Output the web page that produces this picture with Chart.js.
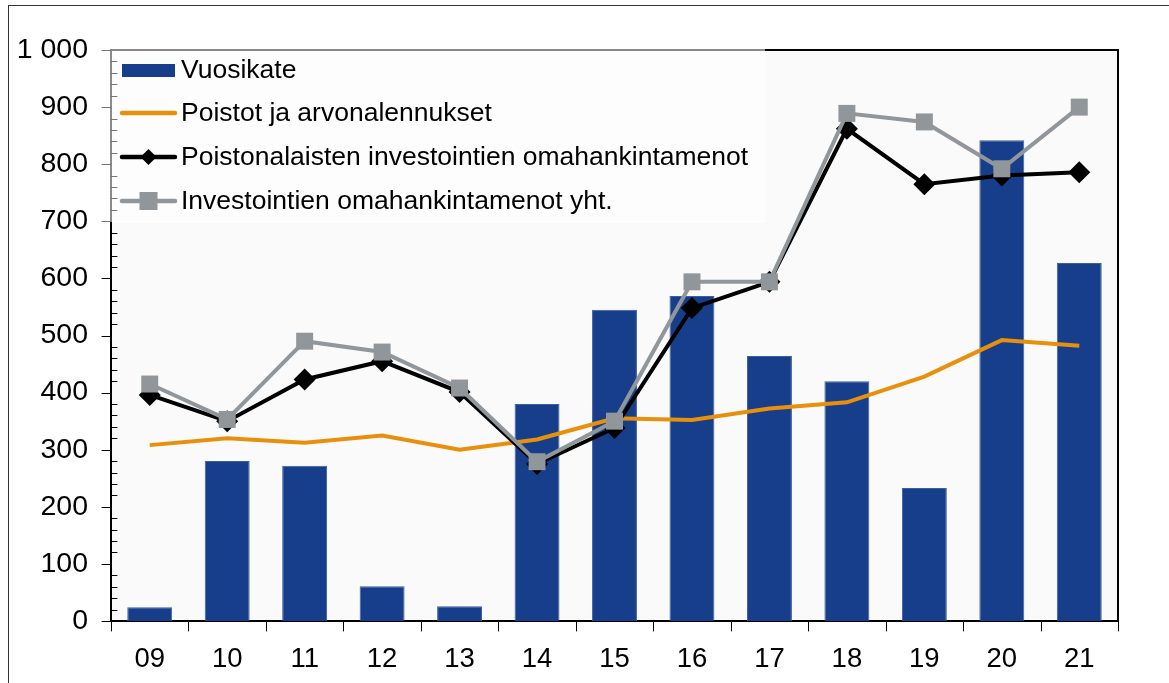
<!DOCTYPE html>
<html>
<head>
<meta charset="utf-8">
<script src="https://cdn.jsdelivr.net/npm/chart.js@4.4.1/dist/chart.umd.min.js"></script>
<style>
  html, body { margin: 0; padding: 0; background: #fff; }
  #wrap { width: 1169px; height: 683px; }
</style>
</head>
<body>
<div id="wrap"><canvas id="kaavio" width="1169" height="683"></canvas></div>
<script>
// vuodet (2009–2021)
const vuodet = ['09', '10', '11', '12', '13', '14', '15', '16', '17', '18', '19', '20', '21'];

// arvot luettu kuvasta
const vuosikate = [24, 280, 272, 61, 26, 380, 545, 569, 464, 420, 233, 842, 627];
const poistot = [308, 320, 312, 325, 300, 318, 355, 352, 372, 383, 428, 492, 482];
const poistonalaiset = [396, 350, 423, 455, 401, 275, 338, 548, 594, 862, 765, 780, 786];
const investoinnitYht = [415, 353, 490, 471, 408, 279, 350, 594, 594, 889, 874, 792, 900];

const nimet = [
    'Vuosikate',
    'Poistot ja arvonalennukset',
    'Poistonalaisten investointien omahankintamenot',
    'Investointien omahankintamenot yht.'
];

const SININEN = '#173e8a';
const ORANSSI = '#e8900c';
const MUSTA = '#000000';
const HARMAA = '#90969a';
const FONTTI = '"Liberation Sans", Arial, sans-serif';

function muotoile(arvo) {
    return String(arvo).replace(/\B(?=(\d{3})+(?!\d))/g, ' ');
}

const kehys = {
    id: 'kehys',
    beforeDraw(chart) {
        const { ctx, chartArea: a } = chart;
        ctx.save();
        ctx.fillStyle = '#ffffff';
        ctx.fillRect(0, 0, chart.width, chart.height);
        ctx.fillStyle = '#fafafa';
        ctx.fillRect(a.left, a.top, a.right - a.left, a.bottom - a.top);
        ctx.restore();
    },
    afterDraw(chart) {
        const { ctx, chartArea: a } = chart;
        const y = chart.scales.y;
        ctx.save();

        // ulkoreuna
        ctx.strokeStyle = '#333';
        ctx.lineWidth = 1;
        ctx.strokeRect(8.5, 5.5, 1300, 800);

        // piirtoalueen ylä- ja oikea reuna
        ctx.strokeStyle = '#000';
        ctx.lineWidth = 2;
        ctx.beginPath();
        ctx.moveTo(a.left, a.top);
        ctx.lineTo(a.right, a.top);
        ctx.lineTo(a.right, a.bottom);
        ctx.stroke();

        // selite
        const lx = a.left, ly = a.top, lw = 765 - a.left, lh = 172;
        ctx.fillStyle = '#fdfdfd';
        ctx.fillRect(lx + 1, ly + 1, lw, lh);
        ctx.strokeStyle = '#8a8a8a';
        ctx.lineWidth = 2;
        ctx.beginPath();
        ctx.moveTo(lx, ly + lh);
        ctx.lineTo(lx, ly);
        ctx.lineTo(lx + lw, ly);
        ctx.stroke();

        const rivit = [70, 113, 157, 201];
        const sx0 = 122, sx1 = 175;
        ctx.font = '26.5px ' + FONTTI;
        ctx.textBaseline = 'middle';
        rivit.forEach((ry, i) => {
            if (i === 0) {
                ctx.fillStyle = SININEN;
                ctx.fillRect(sx0, ry - 6, sx1 - sx0, 13);
            } else {
                const vari = [ORANSSI, MUSTA, HARMAA][i - 1];
                ctx.strokeStyle = vari;
                ctx.lineWidth = 4.5;
                ctx.lineCap = 'round';
                ctx.beginPath();
                ctx.moveTo(sx0, ry);
                ctx.lineTo(sx1, ry);
                ctx.stroke();
                ctx.fillStyle = vari;
                const cx = (sx0 + sx1) / 2;
                if (i === 2) {
                    ctx.beginPath();
                    ctx.moveTo(cx, ry - 8);
                    ctx.lineTo(cx + 8, ry);
                    ctx.lineTo(cx, ry + 8);
                    ctx.lineTo(cx - 8, ry);
                    ctx.closePath();
                    ctx.fill();
                } else if (i === 3) {
                    ctx.fillRect(cx - 9, ry - 9, 18, 18);
                }
            }
            ctx.fillStyle = '#000';
            ctx.fillText(nimet[i], 181, ry + 1);
        });

        // y-akselin jakoviivat
        ctx.strokeStyle = '#000';
        ctx.lineWidth = 1;
        for (let v = 0; v <= 1000; v += 20) {
            const py = Math.round(y.getPixelForValue(v)) + 0.5;
            ctx.strokeStyle = py < ly + lh ? '#777' : '#000';
            ctx.beginPath();
            if (v % 100 === 0) {
                ctx.moveTo(a.left - 9, py);
                ctx.lineTo(a.left, py);
            } else {
                ctx.moveTo(a.left, py);
                ctx.lineTo(a.left + 6, py);
            }
            ctx.stroke();
        }

        // x-akselin jakoviivat luokkien välissä
        ctx.strokeStyle = '#000';
        const leveys = (a.right - a.left) / vuodet.length;
        for (let i = 0; i <= vuodet.length; i++) {
            const px = Math.round(a.left + i * leveys) + 0.5;
            ctx.beginPath();
            ctx.moveTo(px, a.bottom);
            ctx.lineTo(px, a.bottom + 10);
            ctx.stroke();
        }

        ctx.restore();
    }
};

new Chart(document.getElementById('kaavio'), {
    data: {
        labels: vuodet,
        datasets: [
            {
                type: 'bar',
                label: nimet[0],
                data: vuosikate,
                backgroundColor: SININEN,
                borderColor: '#3c5e9e',
                borderWidth: 1,
                barPercentage: 0.58,
                categoryPercentage: 1,
                order: 4
            },
            {
                type: 'line',
                label: nimet[1],
                data: poistot,
                borderColor: ORANSSI,
                borderWidth: 4,
                pointRadius: 0,
                tension: 0,
                order: 3
            },
            {
                type: 'line',
                label: nimet[2],
                data: poistonalaiset,
                borderColor: MUSTA,
                backgroundColor: MUSTA,
                borderWidth: 4,
                pointStyle: 'rectRot',
                pointRadius: 11,
                pointBorderWidth: 0,
                tension: 0,
                order: 2
            },
            {
                type: 'line',
                label: nimet[3],
                data: investoinnitYht,
                borderColor: HARMAA,
                backgroundColor: HARMAA,
                borderWidth: 4,
                pointStyle: 'rect',
                pointRadius: 12,
                pointBorderWidth: 0,
                tension: 0,
                order: 1
            }
        ]
    },
    options: {
        responsive: false,
        animation: false,
        devicePixelRatio: 1,
        layout: { padding: { top: 50, right: 51, left: 0, bottom: 0 } },
        plugins: {
            legend: { display: false },
            tooltip: { enabled: false }
        },
        scales: {
            x: {
                offset: true,
                grid: { display: false, drawTicks: false },
                border: { display: true, color: '#000', width: 2 },
                ticks: {
                    color: '#000',
                    padding: 22,
                    font: { family: FONTTI, size: 27.5 }
                },
                afterFit(s) { s.height = 62; }
            },
            y: {
                min: 0,
                max: 1000,
                grid: { display: false, drawTicks: false },
                border: { display: true, color: '#000', width: 2 },
                ticks: {
                    stepSize: 100,
                    color: '#000',
                    padding: 23,
                    font: { family: FONTTI, size: 28.5 },
                    callback: v => muotoile(v)
                },
                afterFit(s) { s.width = 111; }
            }
        }
    },
    plugins: [kehys]
});
</script>
</body>
</html>
